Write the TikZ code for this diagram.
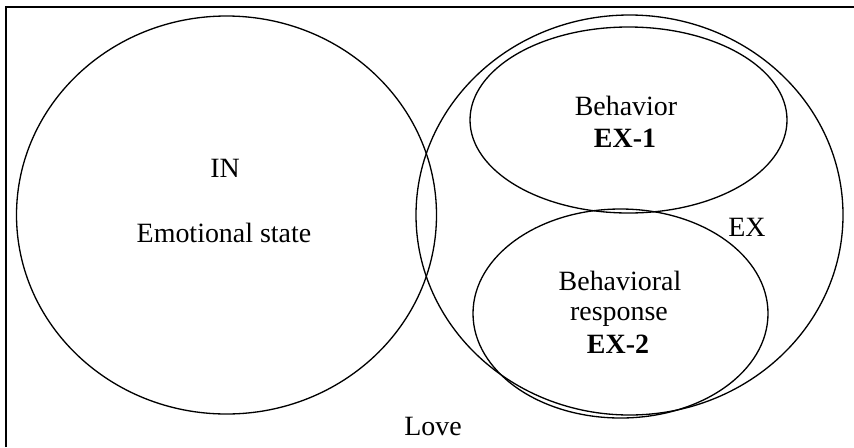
\documentclass[tikz,border=0pt]{standalone}
\usepackage{fontspec}
\setmainfont{Liberation Serif}
\usepackage{tikz}
\usetikzlibrary{positioning}
\tikzset{
    lbl/.style={font=\fontsize{15.9}{18}\selectfont, anchor=base, inner sep=0pt},
    ring/.style={line width=0.75pt},
}
\begin{document}
\begin{tikzpicture}[x=0.02cm, y=-0.02cm] % IN / EX love diagram
	\useasboundingbox (0,0) rectangle (854,447);
	\draw[line width=0.9pt] (6,447) -- (6,7) -- (854,7);
	\draw[ring] (226.5,215) ellipse [x radius=210, y radius=199];
	\draw[ring] (629.5,215) ellipse [x radius=213.5, y radius=200];
	\draw[ring] (628.5,120) ellipse [x radius=158.5, y radius=93];
	\draw[ring] (620.5,313.5) ellipse [x radius=147.5, y radius=104.5];
	\node[lbl] (in) at (225,177) {IN};
	\node[lbl] (emo) at (224,242) {Emotional state};
	\node[lbl] (beh) at (626,115) {Behavior};
	\node[lbl] (ex1) at (625,147) {\textbf{EX-1}};
	\node[lbl] (ex) at (747,236) {EX};
	\node[lbl] (behr) at (620,290) {Behavioral};
	\node[lbl] (resp) at (619,320) {response};
	\node[lbl] (ex2) at (618,353) {\textbf{EX-2}};
	\node[lbl] (love) at (433,435) {Love};
\end{tikzpicture}
\end{document}
